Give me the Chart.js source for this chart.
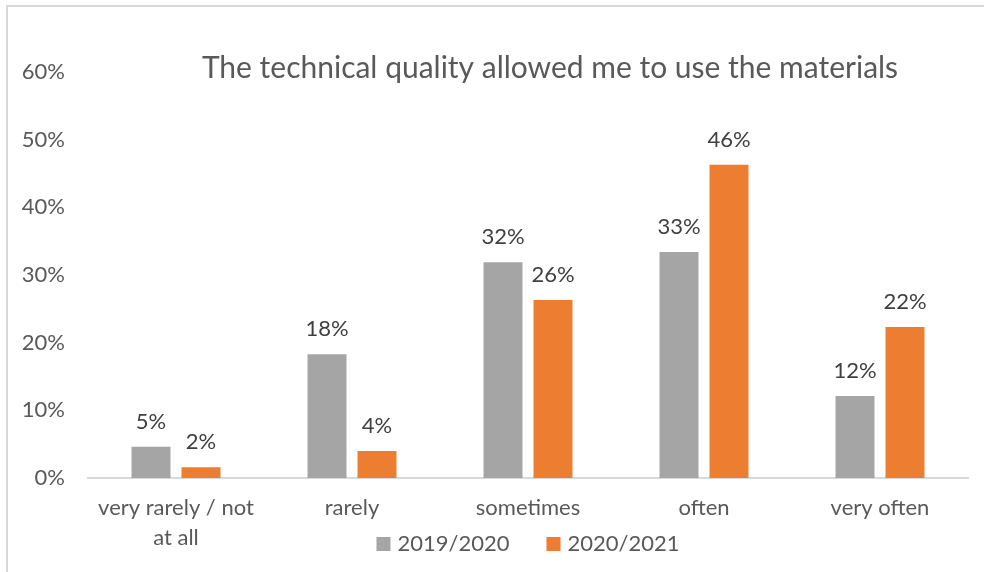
<!DOCTYPE html>
<html>
<head>
<meta charset="utf-8">
<script src="https://cdn.jsdelivr.net/npm/chart.js@4.4.0/dist/chart.umd.min.js"></script>
<style>
  html, body { margin: 0; padding: 0; background: #fff; overflow: hidden; }
  #frame { position: absolute; left: 6px; top: 5px; width: 990px; height: 590px; border: 2px solid #d9d9d9; box-sizing: border-box; }
  #wrap { position: absolute; left: 0; top: 0; width: 984px; height: 572px; }
</style>
</head>
<body>
<div id="frame"></div>
<div id="wrap"><canvas id="chart" width="984" height="572"></canvas></div>
<script>
/* global Chart:false */
(function () {
  'use strict';

  var categories = [['very rarely / not', 'at all'], 'rarely', 'sometimes', 'often', 'very often'];
  var seriesNames = ['2019/2020', '2020/2021'];
  var values2019 = [4.6, 18.3, 31.9, 33.4, 12.1];
  var values2020 = [1.6, 4.0, 26.3, 46.3, 22.3];
  var yTicks = [0, 10, 20, 30, 40, 50, 60];
  var chartTitle = 'The technical quality allowed me to use the materials';

  var FONT = 'Lato, Carlito, Calibri, sans-serif';
  var TEXT = '#595959';
  var LABEL = '#404040';
  var colors = ['#A5A5A5', '#ED7D31'];

  // Percent labels above every bar
  var barLabels = {
    id: 'barLabels',
    afterDatasetsDraw: function (chart) {
      var ctx = chart.ctx;
      ctx.save();
      ctx.font = '22px ' + FONT;
      ctx.fillStyle = LABEL;
      ctx.textAlign = 'center';
      ctx.textBaseline = 'middle';
      chart.data.datasets.forEach(drawSet);
      function drawSet(ds, i) {
        var meta = chart.getDatasetMeta(i);
        meta.data.forEach(function (bar, j) {
          ctx.fillText(Math.round(ds.data[j]) + '%', bar.x, bar.y - 25);
        });
      }
      ctx.restore();
    }
  };

  // Title sits over the plot, like the original
  var overlayTitle = {
    id: 'overlayTitle',
    afterDraw: function (chart) {
      var ctx = chart.ctx;
      ctx.save();
      ctx.font = '30px ' + FONT;
      ctx.fillStyle = TEXT;
      ctx.textAlign = 'center';
      ctx.textBaseline = 'middle';
      ctx.fillText(chartTitle, 550, 68);
      ctx.restore();
    }
  };

  // Legend drawn in the bottom band, beside the second line of the x labels
  var bottomLegend = {
    id: 'bottomLegend',
    afterDraw: function (chart) {
      var ctx = chart.ctx;
      var box = 14, gap = 7, spacing = 37;
      ctx.save();
      ctx.font = '22px ' + FONT;
      ctx.textBaseline = 'middle';
      var widths = chart.data.datasets.map(function (ds) { return ctx.measureText(ds.label).width; });
      var total = 0;
      widths.forEach(function (w) { total += box + gap + w; });
      total += spacing * (widths.length - 1);
      var x = (chart.chartArea.left + chart.chartArea.right) / 2 - total / 2;
      var y = 544;
      chart.data.datasets.forEach(function (ds, i) {
        ctx.fillStyle = ds.backgroundColor;
        ctx.fillRect(x, y - box / 2, box, box);
        ctx.fillStyle = TEXT;
        ctx.fillText(ds.label, x + box + gap, y);
        x += box + gap + widths[i] + spacing;
      });
      ctx.restore();
    }
  };

  new Chart(document.getElementById('chart'), {
    type: 'bar',
    data: {
      labels: categories,
      datasets: [
        { label: seriesNames[0], data: values2019, backgroundColor: colors[0] },
        { label: seriesNames[1], data: values2020, backgroundColor: colors[1] }
      ]
    },
    plugins: [barLabels, overlayTitle, bottomLegend],
    options: {
      responsive: false,
      animation: false,
      events: [],
      categoryPercentage: 0.568,
      barPercentage: 0.78,
      layout: { padding: { top: 72, right: 16, bottom: 0, left: 0 } },
      plugins: {
        legend: { display: false },
        title: { display: false },
        tooltip: { enabled: false }
      },
      scales: {
        x: {
          grid: { display: false, drawTicks: false },
          border: { display: true, color: '#d9d9d9', width: 2 },
          ticks: {
            color: TEXT,
            padding: 15,
            maxRotation: 0,
            autoSkip: false,
            font: { family: FONT, size: 22, lineHeight: 1.36 }
          },
          afterFit: function (s) { s.height = 94; }
        },
        y: {
          min: 0,
          max: 60,
          grid: { display: false, drawTicks: false },
          border: { display: false },
          ticks: {
            color: TEXT,
            padding: 23,
            font: { family: FONT, size: 22 },
            callback: function (v) { return v + '%'; }
          },
          afterBuildTicks: function (s) {
            s.ticks = yTicks.map(function (v) { return { value: v }; });
          },
          afterFit: function (s) { s.width = 88; }
        }
      }
    }
  });
}());
</script>
</body>
</html>
